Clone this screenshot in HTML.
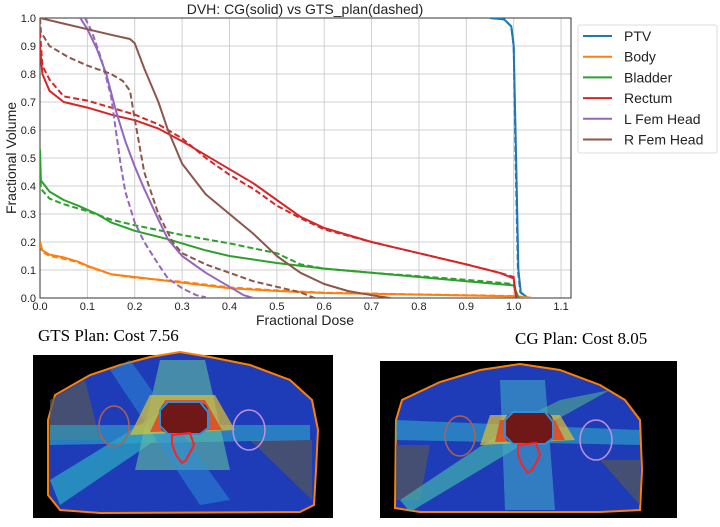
<!DOCTYPE html>
<html><head><meta charset="utf-8"><style>
body{margin:0;width:720px;height:527px;background:#fff;overflow:hidden;font-family:"Liberation Sans",sans-serif}
svg{position:absolute;left:0;top:0}
</style></head><body>
<svg id="chart" width="720" height="527"></svg>
<script>
const xTicks=[0,0.1,0.2,0.3,0.4,0.5,0.6,0.7,0.8,0.9,1.0,1.1];
const yTicks=[0,0.1,0.2,0.3,0.4,0.5,0.6,0.7,0.8,0.9,1.0];
const seriesNames=["PTV","Body","Bladder","Rectum","L Fem Head","R Fem Head"];
const seriesColors=["#1f77b4","#ff7f0e","#2ca02c","#d62728","#9467bd","#8c564b"];
const ptvSolid=[[0.95,1.0],[0.98,0.995],[0.995,0.97],[1.0,0.9],[1.005,0.5],[1.01,0.1],[1.015,0.02],[1.03,0]];
const ptvDashed=[[0.95,1.0],[0.98,0.995],[0.995,0.97],[1.0,0.9],[1.004,0.5],[1.009,0.1],[1.014,0.02],[1.03,0]];
const bodySolid=[[0,0.2],[0.005,0.17],[0.02,0.155],[0.05,0.145],[0.08,0.13],[0.1,0.115],[0.15,0.085],[0.2,0.075],[0.3,0.055],[0.4,0.035],[0.5,0.025],[0.6,0.018],[0.8,0.012],[1.0,0.006],[1.04,0]];
const bodyDashed=[[0,0.19],[0.005,0.165],[0.02,0.15],[0.05,0.14],[0.08,0.128],[0.1,0.113],[0.15,0.085],[0.2,0.073],[0.3,0.058],[0.4,0.038],[0.5,0.027],[0.6,0.019],[0.8,0.013],[1.0,0.007],[1.045,0]];
const bladderSolid=[[0,0.53],[0.002,0.42],[0.02,0.38],[0.05,0.35],[0.08,0.33],[0.12,0.3],[0.15,0.27],[0.2,0.24],[0.27,0.21],[0.35,0.17],[0.4,0.15],[0.5,0.125],[0.6,0.105],[0.7,0.09],[0.8,0.075],[0.9,0.06],[1.0,0.045],[1.01,0]];
const bladderDashed=[[0,0.45],[0.002,0.39],[0.02,0.355],[0.05,0.335],[0.1,0.31],[0.15,0.28],[0.2,0.26],[0.3,0.225],[0.4,0.195],[0.5,0.16],[0.55,0.12],[0.6,0.105],[0.7,0.09],[0.8,0.078],[0.9,0.065],[1.0,0.05],[1.01,0]];
const rectumSolid=[[0,0.9],[0.005,0.8],[0.02,0.74],[0.05,0.7],[0.1,0.68],[0.15,0.655],[0.2,0.635],[0.25,0.605],[0.3,0.56],[0.35,0.51],[0.4,0.46],[0.45,0.41],[0.5,0.35],[0.55,0.29],[0.6,0.25],[0.7,0.2],[0.8,0.16],[0.9,0.12],[0.97,0.09],[1.0,0.07],[1.005,0]];
const rectumDashed=[[0,0.95],[0.005,0.83],[0.02,0.78],[0.05,0.72],[0.1,0.705],[0.15,0.68],[0.2,0.655],[0.25,0.62],[0.3,0.57],[0.35,0.5],[0.4,0.44],[0.45,0.39],[0.5,0.33],[0.55,0.285],[0.6,0.245],[0.7,0.2],[0.8,0.16],[0.9,0.12],[0.97,0.09],[1.0,0.075],[1.005,0]];
const lfemSolid=[[0.085,1.0],[0.1,0.96],[0.12,0.89],[0.14,0.8],[0.16,0.67],[0.18,0.56],[0.2,0.47],[0.22,0.39],[0.25,0.28],[0.27,0.21],[0.3,0.15],[0.35,0.09],[0.4,0.04],[0.43,0.01],[0.45,0]];
const lfemDashed=[[0.095,1.0],[0.11,0.95],[0.13,0.85],[0.15,0.72],[0.16,0.6],[0.17,0.48],[0.18,0.38],[0.2,0.27],[0.22,0.2],[0.25,0.12],[0.27,0.07],[0.3,0.035],[0.33,0.01],[0.35,0.003]];
const rfemSolid=[[0,1.0],[0.05,0.98],[0.1,0.96],[0.15,0.94],[0.19,0.925],[0.2,0.91],[0.22,0.82],[0.25,0.7],[0.27,0.6],[0.3,0.48],[0.35,0.37],[0.4,0.3],[0.45,0.23],[0.5,0.15],[0.55,0.09],[0.6,0.05],[0.65,0.025],[0.7,0.01],[0.74,0]];
const rfemDashed=[[0,1.0],[0.002,0.95],[0.02,0.9],[0.06,0.86],[0.1,0.83],[0.15,0.8],[0.175,0.775],[0.19,0.74],[0.2,0.64],[0.22,0.45],[0.25,0.3],[0.28,0.2],[0.3,0.16],[0.35,0.12],[0.4,0.09],[0.45,0.06],[0.5,0.04],[0.55,0.02],[0.58,0]];
const solids=[ptvSolid,bodySolid,bladderSolid,rectumSolid,lfemSolid,rfemSolid];
const dasheds=[ptvDashed,bodyDashed,bladderDashed,rectumDashed,lfemDashed,rfemDashed];

const NS="http://www.w3.org/2000/svg";
const svg=document.getElementById('chart');
const L=40,R=571,T=18,B=298,XMAX=1.121;
const sx=v=>L+v/XMAX*(R-L);
const sy=v=>B-v*(B-T);
function mk(tag,attrs,parent){const e=document.createElementNS(NS,tag);for(const k in attrs)e.setAttribute(k,attrs[k]);(parent||svg).appendChild(e);return e;}

const clip=mk('clipPath',{id:'plotclip'});mk('rect',{x:L,y:T,width:R-L,height:B-T},clip);
xTicks.forEach(t=>{
 const g=mk('line',{x1:sx(t),x2:sx(t),y1:T,y2:B,stroke:'#d0d0d0','stroke-width':1});
 
 
 const tx=mk('text',{x:sx(t),y:B+12,'font-size':11,'text-anchor':'middle',fill:'#222'});tx.textContent=t.toFixed(1);
 
 
});
yTicks.forEach(t=>{
 const g=mk('line',{x1:L,x2:R,y1:sy(t),y2:sy(t),stroke:'#d0d0d0','stroke-width':1});
 
 
 const tx=mk('text',{x:L-4,y:sy(t)+4,'font-size':11,'text-anchor':'end',fill:'#222'});tx.textContent=t.toFixed(1);
 
 
});
const frame=mk('rect',{x:L,y:T,width:R-L,height:B-T,fill:'none',stroke:'#333','stroke-width':1});


const pg=mk('g',{'clip-path':'url(#plotclip)'});
function line(data,color,dashed){
 const d=data.map((p,i)=>(i?'L':'M')+sx(p[0]).toFixed(1)+','+sy(p[1]).toFixed(1)).join('');
 const a={d:d,fill:'none',stroke:color,'stroke-width':2,'stroke-linejoin':'round'};
 if(dashed)a['stroke-dasharray']='6,3';
 return mk('path',a,pg);
}
for(let i=0;i<6;i++){
 const s=line(solids[i],seriesColors[i],false);
 
 
 const d=line(dasheds[i],seriesColors[i],true);
 
 
}
const title=mk('text',{x:305,y:14,'font-size':14,'text-anchor':'middle',fill:'#222'});title.textContent='DVH: CG(solid) vs GTS_plan(dashed)';


const xl=mk('text',{x:305,y:325,'font-size':14,'text-anchor':'middle',fill:'#222'});xl.textContent='Fractional Dose';


const yl=mk('text',{x:0,y:0,'font-size':14,'text-anchor':'middle',fill:'#222',transform:'translate(16,158) rotate(-90)'});yl.textContent='Fractional Volume';


const lg=mk('g',{});


mk('rect',{x:578,y:25,width:139,height:128,fill:'#fff',stroke:'#ddd',rx:2},lg);
seriesNames.forEach((n,i)=>{
 const y=36+i*20.7;
 const e=mk('g',{},lg);
 
 
 mk('line',{x1:583,x2:612,y1:y,y2:y,stroke:seriesColors[i],'stroke-width':2},e);
 const t=mk('text',{x:624,y:y+5,'font-size':14,fill:'#222'},e);t.textContent=n;
});
</script>
<svg width="720" height="527" style="position:absolute;left:0;top:0">
<text x="38" y="341" font-family="Liberation Serif,serif" font-size="17" fill="#000">GTS Plan: Cost 7.56</text>
<text x="515" y="344" font-family="Liberation Serif,serif" font-size="17" fill="#000">CG Plan: Cost 8.05</text>
<g>
<rect x="33" y="355" width="300" height="163" fill="#000"/>
<path d="M48,420 L55,395 L90,375 L120,365 L150,357 L180,352 L210,357 L250,365 L290,380 L312,400 L318,430 L316,470 L314,505 L300,512 L100,513 L60,510 L48,495 Z" fill="#1e3cb8" stroke="#ff8000" stroke-width="2"/>
<polygon points="50,400 85,380 100,440 50,440" fill="#555" opacity="0.7"/>
<polygon points="250,440 312,440 312,500" fill="#555" opacity="0.7"/>
<polygon points="50,480 180,400 185,420 60,505" fill="#2a9fc0" opacity="0.8"/>
<polygon points="50,425 310,425 310,440 50,445" fill="#30a8c8" opacity="0.6"/>
<polygon points="160,360 205,360 230,470 135,470" fill="#60c0a0" opacity="0.6"/>
<polygon points="130,360 230,500 200,505 110,370" fill="#2d8fd8" opacity="0.5"/>
<polygon points="150,395 215,395 235,430 130,435" fill="#e0c030" opacity="0.7"/>
<polygon points="165,400 205,400 222,430 150,432" fill="#e04020" opacity="0.8"/>
<rect x="160" y="403" width="48" height="30" rx="8" fill="#701818"/>
<path d="M160,410 L168,402 L200,402 L208,412 L208,428 L200,434 L168,434 L160,426 Z" fill="none" stroke="#3090e0" stroke-width="2"/>
<path d="M172,435 L190,433 L194,445 L186,460 L182,463 L176,455 L172,444 Z" fill="none" stroke="#ff2020" stroke-width="2"/>
<ellipse cx="114" cy="426" rx="15" ry="20" fill="none" stroke="#b06050" stroke-width="1.5"/>
<ellipse cx="249" cy="430" rx="16" ry="20" fill="none" stroke="#c090e0" stroke-width="1.5"/>
</g>
<g>
<rect x="380" y="361" width="297" height="157" fill="#000"/>
<path d="M396,420 L402,400 L440,382 L480,370 L520,364 L560,370 L600,385 L625,400 L640,420 L642,470 L640,510 L600,512 L420,512 L395,508 Z" fill="#1e3cb8" stroke="#ff8000" stroke-width="2"/>
<polygon points="396,445 430,445 420,500 396,500" fill="#555" opacity="0.7"/>
<polygon points="600,460 640,460 640,505" fill="#555" opacity="0.7"/>
<polygon points="396,420 640,430 640,445 396,440" fill="#30a8c8" opacity="0.6"/>
<polygon points="400,500 520,420 530,440 410,512" fill="#40b0b0" opacity="0.7"/>
<polygon points="500,380 545,380 555,510 505,510" fill="#40a8c8" opacity="0.6"/>
<polygon points="560,400 610,390 520,440 500,430" fill="#50b090" opacity="0.6"/>
<polygon points="490,415 560,415 575,440 480,445" fill="#e0c030" opacity="0.7"/>
<polygon points="500,420 555,420 565,440 495,442" fill="#e04020" opacity="0.8"/>
<rect x="505" y="413" width="48" height="30" rx="8" fill="#701818"/>
<path d="M505,420 L513,412 L545,412 L553,422 L553,438 L545,444 L513,444 L505,436 Z" fill="none" stroke="#3090e0" stroke-width="2"/>
<path d="M518,445 L536,443 L540,455 L532,470 L528,473 L522,465 L518,454 Z" fill="none" stroke="#ff2020" stroke-width="2"/>
<ellipse cx="460" cy="436" rx="15" ry="20" fill="none" stroke="#b06050" stroke-width="1.5"/>
<ellipse cx="596" cy="440" rx="16" ry="20" fill="none" stroke="#c090e0" stroke-width="1.5"/>
</g>
</svg>
</body></html>
